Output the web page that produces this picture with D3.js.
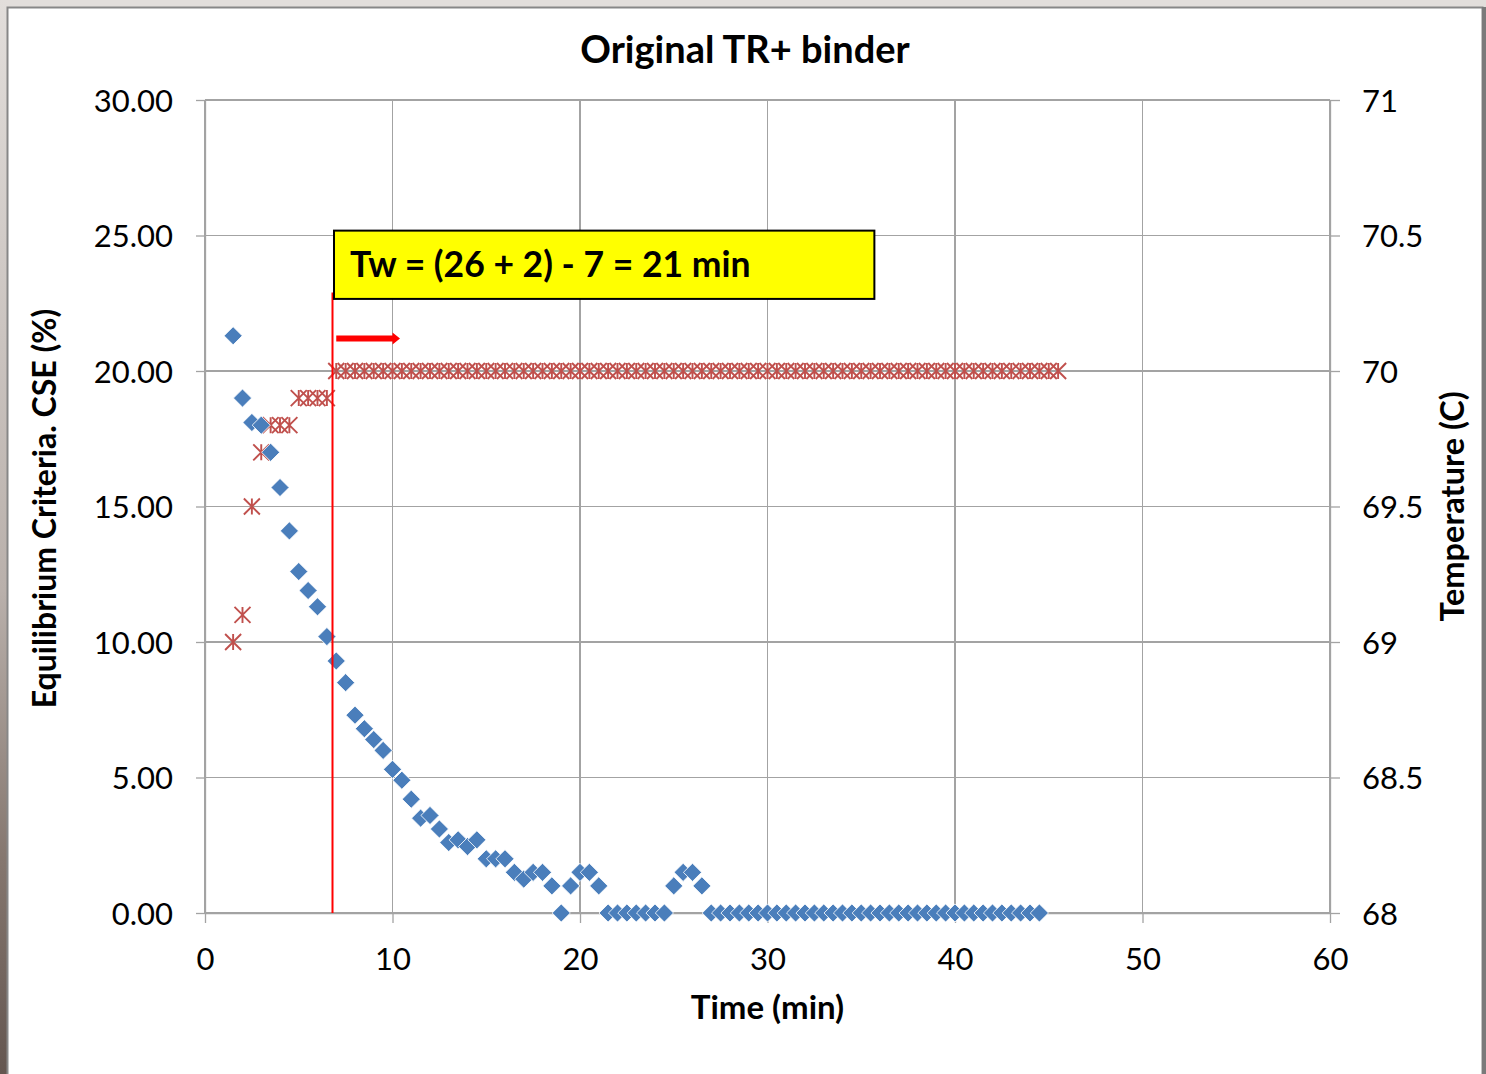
<!DOCTYPE html>
<html>
<head>
<meta charset="utf-8">
<script src="https://cdn.jsdelivr.net/npm/d3@7"></script>
<style>
  html, body { margin: 0; padding: 0; background: #ffffff; }
  svg { display: block; }
  text { font-family: Lato, "Open Sans", sans-serif; fill: #000; }
</style>
</head>
<body>
<svg id="chart" width="1486" height="1074"></svg>
<script>
// CSE equilibrium criterion (%) against time (min)
const cseTime = [1.5, 2, 2.5, 3, 3.5, 4, 4.5, 5, 5.5, 6, 6.5, 7, 7.5, 8, 8.5, 9, 9.5, 10,
  10.5, 11, 11.5, 12, 12.5, 13, 13.5, 14, 14.5, 15, 15.5, 16, 16.5, 17, 17.5, 18, 18.5,
  19, 19.5, 20, 20.5, 21, 21.5, 22, 22.5, 23, 23.5, 24, 24.5, 25, 25.5, 26, 26.5, 27,
  27.5, 28, 28.5, 29, 29.5, 30, 30.5, 31, 31.5, 32, 32.5, 33, 33.5, 34, 34.5, 35, 35.5,
  36, 36.5, 37, 37.5, 38, 38.5, 39, 39.5, 40, 40.5, 41, 41.5, 42, 42.5, 43, 43.5, 44, 44.5];
const cseValue = [21.3, 19.0, 18.1, 18.0, 17.0, 15.7, 14.1, 12.6, 11.9, 11.3, 10.2, 9.3,
  8.5, 7.3, 6.8, 6.4, 6.0, 5.3, 4.9, 4.2, 3.5, 3.6, 3.1, 2.6, 2.7, 2.45, 2.7, 2.0, 2.0,
  2.0, 1.5, 1.25, 1.5, 1.5, 1.0, 0, 1.0, 1.5, 1.5, 1.0, 0, 0, 0, 0, 0, 0, 0, 1.0, 1.5,
  1.5, 1.0, 0, 0, 0, 0, 0, 0, 0, 0, 0, 0, 0, 0, 0, 0, 0, 0, 0, 0, 0, 0, 0, 0, 0, 0, 0,
  0, 0, 0, 0, 0, 0, 0, 0, 0, 0, 0];

// Temperature (C) against time (min)
const tempTime = [1.5, 2, 2.5, 3, 3.5, 4, 4.5, 5, 5.5, 6, 6.5, 7, 7.5, 8, 8.5, 9, 9.5, 10,
  10.5, 11, 11.5, 12, 12.5, 13, 13.5, 14, 14.5, 15, 15.5, 16, 16.5, 17, 17.5, 18, 18.5,
  19, 19.5, 20, 20.5, 21, 21.5, 22, 22.5, 23, 23.5, 24, 24.5, 25, 25.5, 26, 26.5, 27,
  27.5, 28, 28.5, 29, 29.5, 30, 30.5, 31, 31.5, 32, 32.5, 33, 33.5, 34, 34.5, 35, 35.5,
  36, 36.5, 37, 37.5, 38, 38.5, 39, 39.5, 40, 40.5, 41, 41.5, 42, 42.5, 43, 43.5, 44,
  44.5, 45, 45.5];
const tempValue = [69.0, 69.1, 69.5, 69.7, 69.8, 69.8, 69.8, 69.9, 69.9, 69.9, 69.9,
  70, 70, 70, 70, 70, 70, 70, 70, 70, 70, 70, 70, 70, 70, 70, 70, 70, 70, 70, 70, 70, 70,
  70, 70, 70, 70, 70, 70, 70, 70, 70, 70, 70, 70, 70, 70, 70, 70, 70, 70, 70, 70, 70, 70,
  70, 70, 70, 70, 70, 70, 70, 70, 70, 70, 70, 70, 70, 70, 70, 70, 70, 70, 70, 70, 70, 70,
  70, 70, 70, 70, 70, 70, 70, 70, 70, 70, 70, 70];

// Axis ticks
const xTicks = [0, 10, 20, 30, 40, 50, 60];
const yLeftTicks = [0, 5, 10, 15, 20, 25, 30];
const yRightTicks = [68, 68.5, 69, 69.5, 70, 70.5, 71];

// Texts
const titleText = "Original TR+ binder";
const xTitle = "Time (min)";
const yLeftTitle = "Equilibrium Criteria. CSE (%)";
const yRightTitle = "Temperature (C)";
const noteText = "Tw = (26 + 2) - 7 = 21 min";

// Annotation anchor values (time in min, CSE in %)
const markerTime = 6.8;
const markerTop = 22.9;
const arrowFrom = 7.0, arrowHeadStart = 10.0, arrowTo = 10.4, arrowLevel = 21.2;
const noteBox = { x0: 6.88, x1: 35.7, y0: 22.66, y1: 25.18 };

const svg = d3.select("#chart");
const W = 1486, H = 1074;

// Window frame
const defs = svg.append("defs");
const grad = defs.append("linearGradient").attr("id", "edge").attr("x1", 0).attr("x2", 0).attr("y1", 0).attr("y2", 1);
grad.append("stop").attr("offset", "0").attr("stop-color", "#e2dedb");
grad.append("stop").attr("offset", "0.55").attr("stop-color", "#b9b0ab");
grad.append("stop").attr("offset", "0.8").attr("stop-color", "#85776f");
grad.append("stop").attr("offset", "1").attr("stop-color", "#645650");
svg.append("rect").attr("width", W).attr("height", H).attr("fill", "#e2dedb");
svg.append("rect").attr("x", 0).attr("y", 0).attr("width", 7).attr("height", H).attr("fill", "url(#edge)");
svg.append("rect").attr("x", 7).attr("y", 7).attr("width", 1476).attr("height", H - 7)
  .attr("fill", "#ffffff");
svg.append("path").attr("d", `M7.5,${H}V7.5H1482.5V${H}`)
  .attr("fill", "none").attr("stroke", "#878787").attr("stroke-width", 2);
svg.append("rect").attr("x", 1482).attr("y", 7).attr("width", 4).attr("height", H - 7).attr("fill", "#7a7a7a");

// Scales
const x = d3.scaleLinear().domain([0, 60]).range([205, 1330]);
const yL = d3.scaleLinear().domain([0, 30]).range([913, 100]);
const yR = d3.scaleLinear().domain([68, 71]).range([913, 100]);

const gridColor = "#a3a3a3";

// Gridlines
const grid = svg.append("g");
grid.selectAll("line.h").data(yLeftTicks).join("line")
  .attr("x1", x(0)).attr("x2", x(60))
  .attr("y1", d => yL(d)).attr("y2", d => yL(d))
  .attr("stroke", gridColor).attr("stroke-width", 1.3).attr("shape-rendering", "crispEdges");
grid.selectAll("line.v").data(xTicks).join("line")
  .attr("x1", d => x(d)).attr("x2", d => x(d))
  .attr("y1", yL(30)).attr("y2", yL(0))
  .attr("stroke", gridColor).attr("stroke-width", 1.3).attr("shape-rendering", "crispEdges");

function styleAxis(g) {
  g.select(".domain").attr("stroke", gridColor).attr("stroke-width", 1.3);
  g.selectAll(".tick line").attr("stroke", gridColor).attr("stroke-width", 1.3);
  g.selectAll(".tick text").attr("font-size", 31).attr("fill", "#000")
    .attr("font-family", "Lato, 'Open Sans', sans-serif");
}

svg.append("g").attr("transform", `translate(${x(0)},0)`)
  .call(d3.axisLeft(yL).tickValues(yLeftTicks).tickSize(9).tickSizeOuter(0).tickPadding(23)
    .tickFormat(d3.format(".2f")))
  .call(styleAxis)
  .call(g => g.selectAll(".tick text").attr("dy", "0.36em"));

svg.append("g").attr("transform", `translate(${x(60)},0)`)
  .call(d3.axisRight(yR).tickValues(yRightTicks).tickSize(10).tickSizeOuter(0).tickPadding(22)
    .tickFormat(d => d3.format("")(d)))
  .call(styleAxis)
  .call(g => g.selectAll(".tick text").attr("dy", "0.36em"));

svg.append("g").attr("transform", `translate(0,${yL(0)})`)
  .call(d3.axisBottom(x).tickValues(xTicks).tickSize(10).tickSizeOuter(0).tickPadding(25))
  .call(styleAxis);

// Temperature series: star markers (X with a vertical stroke)
const s = 8;
const starPath = `M${-s},${-s}L${s},${s}M${-s},${s}L${s},${-s}M0,${-s}L0,${s}`;
svg.append("g").selectAll("path").data(tempTime.map((t, i) => [t, tempValue[i]])).join("path")
  .attr("transform", d => `translate(${x(d[0])},${yR(d[1])})`)
  .attr("d", starPath)
  .attr("fill", "none").attr("stroke", "#c0504d").attr("stroke-width", 1.9);

// CSE series: diamond markers
svg.append("g").selectAll("path").data(cseTime.map((t, i) => [t, cseValue[i]])).join("path")
  .attr("transform", d => `translate(${x(d[0])},${yL(d[1])}) rotate(45)`)
  .attr("d", d3.symbol().type(d3.symbolSquare).size(165))
  .attr("fill", "#4a7ebb").attr("stroke", "#ffffff").attr("stroke-width", 0.8);

// Vertical marker line
svg.append("line")
  .attr("x1", x(markerTime)).attr("x2", x(markerTime))
  .attr("y1", yL(markerTop)).attr("y2", yL(0))
  .attr("stroke", "#ff0000").attr("stroke-width", 2);

// Arrow
const ay = yL(arrowLevel);
svg.append("path")
  .attr("d", `M${x(arrowFrom)},${ay - 3}H${x(arrowHeadStart)}V${ay - 6}L${x(arrowTo)},${ay}L${x(arrowHeadStart)},${ay + 6}V${ay + 3}H${x(arrowFrom)}Z`)
  .attr("fill", "#ff0000");

// Note box
svg.append("rect")
  .attr("x", x(noteBox.x0)).attr("y", yL(noteBox.y1))
  .attr("width", x(noteBox.x1) - x(noteBox.x0)).attr("height", yL(noteBox.y0) - yL(noteBox.y1))
  .attr("fill", "#ffff00").attr("stroke", "#000").attr("stroke-width", 2);
svg.append("text")
  .attr("x", x(noteBox.x0) + 16).attr("y", (yL(noteBox.y1) + yL(noteBox.y0)) / 2)
  .attr("dy", "0.35em").attr("font-size", 35.5).attr("font-weight", 700)
  .text(noteText);

// Titles
svg.append("text").attr("x", 745).attr("y", 50).attr("dy", "0.35em")
  .attr("text-anchor", "middle").attr("font-size", 38).attr("font-weight", 700)
  .text(titleText);
svg.append("text").attr("x", (x(0) + x(60)) / 2).attr("y", 1007).attr("dy", "0.35em")
  .attr("text-anchor", "middle").attr("font-size", 33).attr("font-weight", 700)
  .text(xTitle);
svg.append("text").attr("transform", `translate(45,${(yL(0) + yL(30)) / 2 + 2}) rotate(-90)`)
  .attr("dy", "0.35em").attr("text-anchor", "middle").attr("font-size", 32).attr("font-weight", 700)
  .text(yLeftTitle);
svg.append("text").attr("transform", `translate(1453,${(yL(0) + yL(30)) / 2}) rotate(-90)`)
  .attr("dy", "0.35em").attr("text-anchor", "middle").attr("font-size", 32.5).attr("font-weight", 700)
  .text(yRightTitle);
</script>
</body>
</html>
